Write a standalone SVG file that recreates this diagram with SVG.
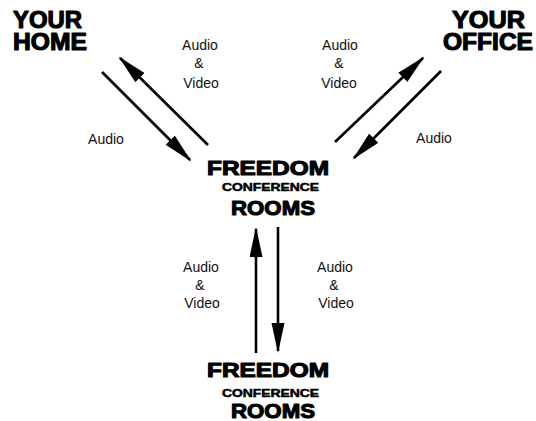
<svg xmlns="http://www.w3.org/2000/svg" width="536" height="421" viewBox="0 0 536 421">
<style>
.t{font-family:"Liberation Sans",Arial,sans-serif;font-weight:bold;fill:#000;stroke:#000;stroke-width:1.1;stroke-linejoin:round}
.s{stroke-width:0.5}
.l{font-family:"Liberation Sans",Arial,sans-serif;font-size:14px;fill:#111;text-anchor:middle}
.c{stroke:#000;stroke-width:2.6;fill:none;marker-end:url(#ah)}
</style>
<defs>
<marker id="ah" markerUnits="userSpaceOnUse" markerWidth="32" markerHeight="14" refX="28" refY="6.5" orient="auto">
<path d="M0,0 L30,6.5 L0,13 Z" fill="#000"/>
</marker>
</defs>
<rect width="536" height="421" fill="#fff"/>
<g id="connectors">
<line class="c" x1="102" y1="72" x2="190" y2="160"/>
<line class="c" x1="208" y1="145" x2="120" y2="58"/>
<line class="c" x1="335" y1="142" x2="423" y2="58"/>
<line class="c" x1="441" y1="71" x2="354" y2="158"/>
<line class="c" x1="256" y1="353" x2="256" y2="229"/>
<line class="c" x1="278" y1="227" x2="278" y2="351"/>
</g>
<g id="labels">
<text class="l" x="200" y="50">Audio</text>
<text class="l" x="199" y="68">&amp;</text>
<text class="l" x="201" y="88">Video</text>
<text class="l" x="106" y="144">Audio</text>
<text class="l" x="340" y="50">Audio</text>
<text class="l" x="339" y="68">&amp;</text>
<text class="l" x="339" y="88">Video</text>
<text class="l" x="434" y="143">Audio</text>
<text class="l" x="201" y="272">Audio</text>
<text class="l" x="200" y="290">&amp;</text>
<text class="l" x="202" y="308">Video</text>
<text class="l" x="335" y="272">Audio</text>
<text class="l" x="334" y="290">&amp;</text>
<text class="l" x="336" y="308">Video</text>
</g>
<g id="home">
<text class="t" x="13" y="28" font-size="23" textLength="69" lengthAdjust="spacingAndGlyphs">YOUR</text>
<text class="t" x="13" y="50" font-size="23" textLength="74" lengthAdjust="spacingAndGlyphs">HOME</text>
</g>
<g id="office">
<text class="t" x="452" y="28" font-size="23" textLength="73" lengthAdjust="spacingAndGlyphs">YOUR</text>
<text class="t" x="443" y="50" font-size="23" textLength="90" lengthAdjust="spacingAndGlyphs">OFFICE</text>
</g>
<g id="freedom1">
<text class="t" x="207" y="175" font-size="20" textLength="122" lengthAdjust="spacingAndGlyphs">FREEDOM</text>
<text class="t s" x="222" y="191" font-size="11" textLength="97" lengthAdjust="spacingAndGlyphs">CONFERENCE</text>
<text class="t" x="231" y="215" font-size="21" textLength="84" lengthAdjust="spacingAndGlyphs">ROOMS</text>
</g>
<g id="freedom2">
<text class="t" x="207" y="377" font-size="20" textLength="122" lengthAdjust="spacingAndGlyphs">FREEDOM</text>
<text class="t s" x="222" y="397" font-size="11" textLength="97" lengthAdjust="spacingAndGlyphs">CONFERENCE</text>
<text class="t" x="231" y="418" font-size="20" textLength="84" lengthAdjust="spacingAndGlyphs">ROOMS</text>
</g>
</svg>
